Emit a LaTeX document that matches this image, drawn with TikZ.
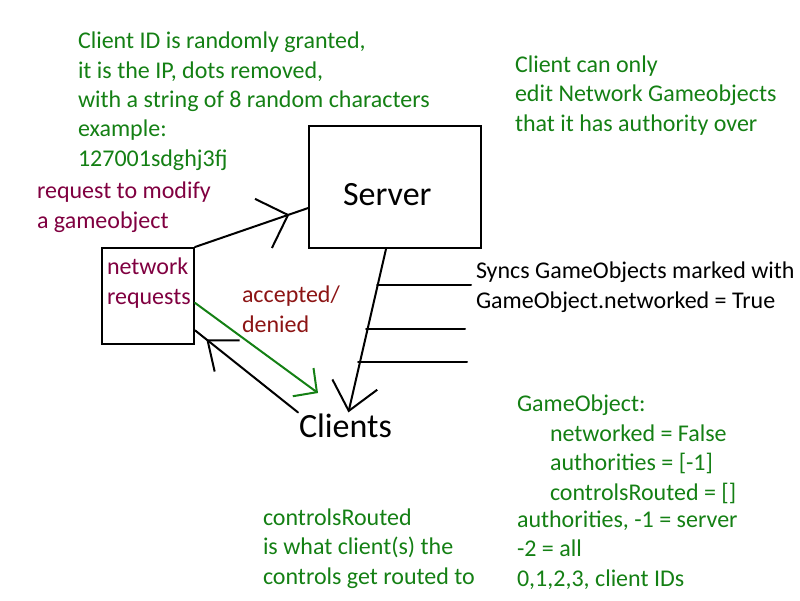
\documentclass[tikz,border=0pt]{standalone}
\usepackage{fontspec}
\setmainfont{Carlito}
\usetikzlibrary{arrows.meta, calc, decorations.markings}

\definecolor{notegreen}{RGB}{20,128,20}
\definecolor{reqmaroon}{RGB}{128,0,64}
\definecolor{replyred}{RGB}{140,20,20}

\begin{document}
\begin{tikzpicture}[x=1pt, y=-1pt, line width=2pt, line cap=round,
    box/.style={draw, rectangle, inner sep=0pt},
    txt/.style={font=\fontsize{24}{29.3}\selectfont, inner sep=0pt, align=left, anchor=base west},
    big/.style={font=\fontsize{34}{40}\selectfont, inner sep=0pt, anchor=base west},
    reqtip/.style={postaction={decorate}, decoration={markings,
        mark=at position 0.835 with {\arrow{Straight Barb[length=26pt,width=52pt]}}}},
    backtip/.style={postaction={decorate}, decoration={markings,
        mark=at position 0.89 with {\arrow{Straight Barb[length=25pt,width=40pt]}}}}]

    \useasboundingbox (0,0) rectangle (800,600);

    % Boxes
    \node[box, minimum width=172, minimum height=122] (server) at (395,187) {};
    \node[box, minimum width=92, minimum height=96] (netreq) at (148,296) {};

    % Box names (anchored at the baseline of the last line)
    \node[big] (servername) at (342,205) {Server};
    \node[big] (clients) at (298,437) {Clients};
    \node[txt, text=reqmaroon] (netreqtxt) at (106,304) {network\\requests};

    % Notes
    \node[txt, text=notegreen] (clientid) at (77,166)
        {Client ID is randomly granted,\\it is the IP, dots removed,\\with a string of 8 random characters\\example:\\127001sdghj3fj};
    \node[txt, text=notegreen] (authonly) at (514,131)
        {Client can only\\edit Network Gameobjects\\that it has authority over};
    \node[txt, text=reqmaroon] (modreq) at (36,228) {request to modify\\a gameobject};
    \node[txt, text=replyred] (accepted) at (241,332) {accepted/\\denied};
    \node[txt] (syncs) at (475,308) {Syncs GameObjects marked with\\GameObject.networked = True};
    \node[txt, text=notegreen] (gameobj) at (516,411) {GameObject:};
    \node[txt, text=notegreen] (fields) at (549,500)
        {networked = False\\authorities = [-1]\\controlsRouted = []};
    \node[txt, text=notegreen] (authnote) at (516,586)
        {authorities, -1 = server\\-2 = all\\0,1,2,3, client IDs};
    \node[txt, text=notegreen] (routednote) at (262,584)
        {controlsRouted\\is what client(s) the\\controls get routed to};

    % Requests and replies
    \draw[reqtip] (netreq.north east) -- ($(server.north west)!0.67!(server.south west)$);
    \coordinate (grnend) at (318,393);
    \draw[notegreen, -{Straight Barb[length=17pt,width=35pt]}]
        ($(netreq.north east)!0.57!(netreq.south east)$) -- (grnend);
    \draw[backtip] (clients.north west) -- ($(netreq.north east)!0.85!(netreq.south east)$);

    % Server to clients
    \coordinate (srvout) at ([xshift=-9pt]server.south);
    \draw[-{Straight Barb[length=27pt,width=46pt]}] (srvout) -- (clients);

    % Sync lines
    \foreach \i/\y/\xa/\xb in {1/285/377/471, 2/329/366/465, 3/362/358/467} {
        \coordinate (sync-\i-a) at (\xa,\y);
        \coordinate (sync-\i-b) at (\xb,\y);
        \draw (sync-\i-a) -- (sync-\i-b);
    }

\end{tikzpicture}
\end{document}
